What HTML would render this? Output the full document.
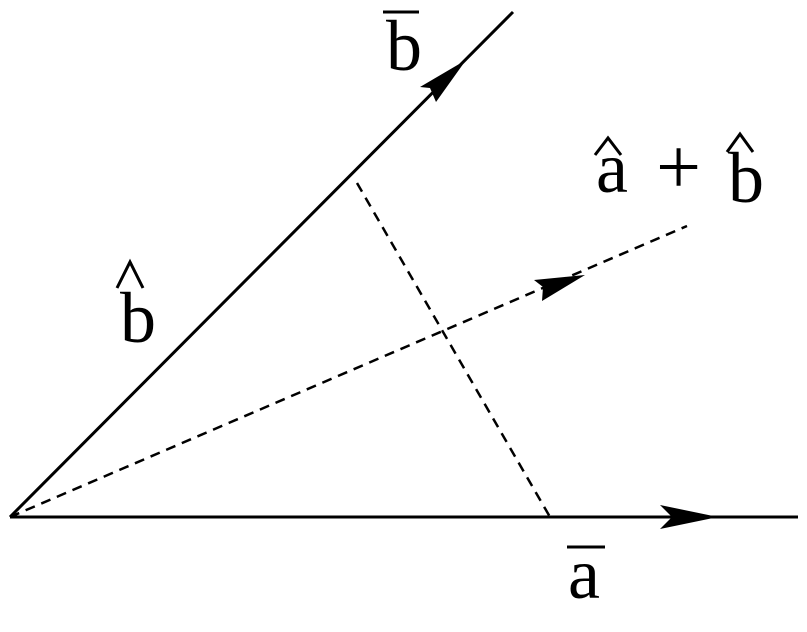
<!DOCTYPE html>
<html><head><style>body{margin:0;background:#fff} text{font-family:"Liberation Serif","Times New Roman","DejaVu Serif",serif}</style></head><body>
<svg width="807" height="627" viewBox="0 0 807 627" xmlns="http://www.w3.org/2000/svg">
<g stroke="#000" stroke-width="3" fill="none">
<line x1="10" y1="517" x2="798" y2="517"/>
<line x1="10" y1="517" x2="513" y2="12"/>
<line x1="10" y1="517" x2="687" y2="226" stroke-dasharray="10,7" stroke-width="2.5"/>
<line x1="357" y1="183" x2="550" y2="517" stroke-dasharray="10,7" stroke-width="2.5"/>
</g>
<g fill="#000">
<polygon points="718,517 660,505 672,517 660,529"/>
<polygon points="466,60 420,87 430,88 436,102"/>
<polygon points="585,275 534,280 543,287 542,301"/>
</g>
<g font-size="72" fill="#000">
<text x="386" y="70">b</text>
<text x="120" y="342">b</text>
<text x="596" y="192">a</text>
<text x="656" y="194" font-size="80">+</text>
<text x="728" y="202">b</text>
<text x="568" y="598">a</text>
</g>
<g stroke="#000" stroke-width="3" fill="none">
<line x1="383" y1="12" x2="419" y2="12"/>
<line x1="567" y1="547" x2="605" y2="547"/>
<polyline points="117,288 130,262 143,288"/>
<polyline points="595,155 608,138 621,155"/>
<polyline points="727,152 740,134 753,152"/>
</g>
</svg>
</body></html>
